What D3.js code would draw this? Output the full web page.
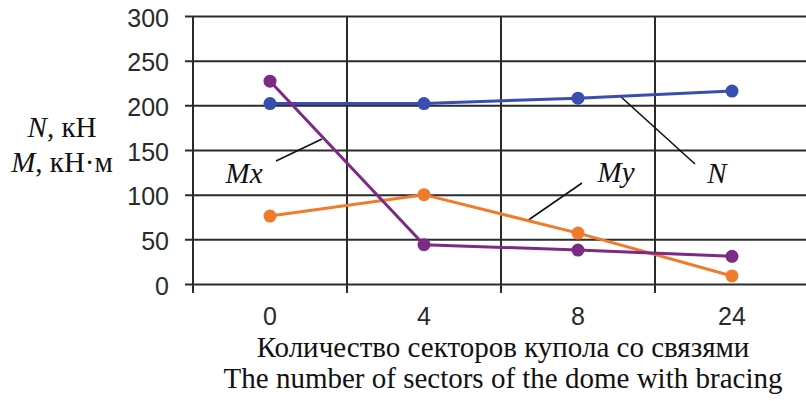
<!DOCTYPE html>
<html><head><meta charset="utf-8">
<script src="https://cdn.jsdelivr.net/npm/d3@7"></script>
<style>
html,body{margin:0;padding:0;background:#fff;overflow:hidden}
svg{display:block}
</style></head>
<body>
<svg id="chart" width="806" height="401"></svg>
<script>
// Categories along the x axis: number of braced sectors of the dome
const categories = ["0", "4", "8", "24"];
// Series values (N in kN, Mx and My in kN·m)
const seriesN  = [202, 202, 208, 216];
const seriesMx = [227, 44, 38, 31];
const seriesMy = [76, 100, 57, 9];
const yTicks = [0, 50, 100, 150, 200, 250, 300];

const svg = d3.select("#chart");
const plotL = 193, plotR = 809, plotT = 16, plotB = 284;

const x = d3.scaleBand().domain(categories).range([plotL, plotR]).padding(0);
const y = d3.scaleLinear().domain([0, 300]).range([plotB, plotT]);

const gridColor = "#2b2b2b";
const sans = "'Liberation Sans', Arial, sans-serif";
const serif = "'Liberation Serif', 'Times New Roman', serif";

// Horizontal grid lines with short ticks to the left
const yAxis = d3.axisLeft(y).tickValues(yTicks).tickSize(-(plotR - plotL)).tickPadding(24).tickSizeOuter(0);
const gy = svg.append("g").attr("transform", `translate(${plotL},0)`).call(yAxis);
gy.select(".domain").remove();
gy.selectAll(".tick line").attr("stroke", gridColor).attr("stroke-width", 2).attr("x1", -8);
gy.selectAll(".tick text").attr("font-family", sans)
  .attr("font-size", 25).attr("fill", "#2a2a2a").attr("dy", "0.4em");

// Vertical grid lines at category boundaries
const bounds = categories.map(c => x(c)).concat([plotR]);
svg.append("g").selectAll("line").data(bounds).join("line")
  .attr("x1", d => d).attr("x2", d => d)
  .attr("y1", plotT).attr("y2", plotB + 9)
  .attr("stroke", gridColor).attr("stroke-width", 2);

// Category labels
const xAxis = d3.axisBottom(x).tickSize(0).tickPadding(23);
const gx = svg.append("g").attr("transform", `translate(0,${plotB})`).call(xAxis);
gx.select(".domain").remove();
gx.selectAll(".tick text").attr("font-family", sans)
  .attr("font-size", 25).attr("fill", "#2a2a2a");

const cx = c => x(c) + x.bandwidth() / 2;

// Leader lines for series labels
const leaders = [
  {x1: 276, y1: 161, x2: 322, y2: 139},
  {x1: 582, y1: 183, x2: 527, y2: 221},
  {x1: 695, y1: 164, x2: 620, y2: 96}
];
svg.append("g").selectAll("line").data(leaders).join("line")
  .attr("x1", d => d.x1).attr("y1", d => d.y1).attr("x2", d => d.x2).attr("y2", d => d.y2)
  .attr("stroke", "#111").attr("stroke-width", 1.6);

const series = [
  {values: seriesMy, color: "#f07b2c"},
  {values: seriesN,  color: "#3a4db0"},
  {values: seriesMx, color: "#7c2a85"}
];
const line = d3.line().x((d, i) => cx(categories[i])).y(d => y(d));
series.forEach(s => {
  svg.append("path").datum(s.values).attr("d", line)
    .attr("fill", "none").attr("stroke", s.color).attr("stroke-width", 3);
  svg.append("g").selectAll("circle").data(s.values).join("circle")
    .attr("cx", (d, i) => cx(categories[i])).attr("cy", d => y(d)).attr("r", 6.5)
    .attr("fill", s.color);
});

// Series labels
const labels = [
  {t: "Mx", x: 244, y: 183},
  {t: "My", x: 616, y: 182},
  {t: "N",  x: 717, y: 183}
];
svg.append("g").selectAll("text").data(labels).join("text")
  .attr("x", d => d.x).attr("y", d => d.y).attr("text-anchor", "middle")
  .attr("font-family", serif).attr("font-style", "italic").attr("font-size", 29)
  .attr("fill", "#111").text(d => d.t);

// Y-axis title
const yt1 = svg.append("text").attr("x", 62).attr("y", 137).attr("text-anchor", "middle")
  .attr("font-family", serif).attr("font-size", 29).attr("fill", "#111");
yt1.append("tspan").attr("font-style", "italic").text("N");
yt1.append("tspan").text(", кН");
const yt2 = svg.append("text").attr("x", 62).attr("y", 172).attr("text-anchor", "middle")
  .attr("font-family", serif).attr("font-size", 29).attr("fill", "#111");
yt2.append("tspan").attr("font-style", "italic").text("M");
yt2.append("tspan").text(", кН·м");

// X-axis title (two lines)
svg.append("text").attr("x", 503).attr("y", 357).attr("text-anchor", "middle")
  .attr("font-family", serif).attr("font-size", 29).attr("fill", "#111")
  .text("Количество секторов купола со связями");
svg.append("text").attr("x", 503).attr("y", 388).attr("text-anchor", "middle")
  .attr("font-family", serif).attr("font-size", 29).attr("fill", "#111")
  .text("The number of sectors of the dome with bracing");
</script>
</body></html>
